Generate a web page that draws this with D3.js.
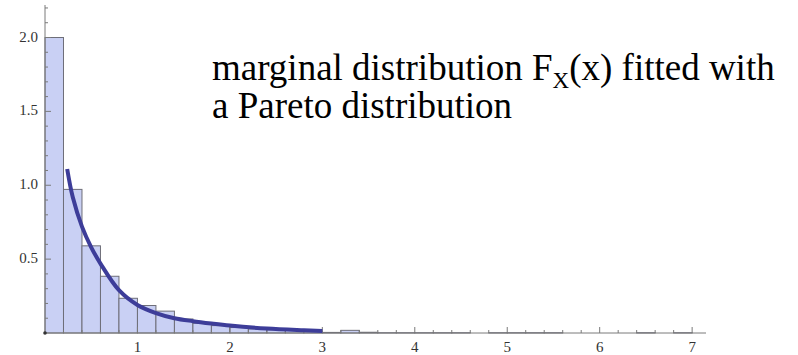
<!DOCTYPE html>
<html>
<head>
<meta charset="utf-8">
<script src="https://cdn.jsdelivr.net/npm/d3@7"></script>
<style>
  body { margin: 0; background: #fff; }
  svg { display: block; }
</style>
</head>
<body>
<div id="chart"></div>
<script>
// histogram bins (width 0.2) and heights
var binStarts = [0, 0.2, 0.4, 0.6, 0.8, 1.0, 1.2, 1.4, 1.6, 1.8, 2.0, 2.2, 2.4, 2.6, 2.8,
  3.0, 3.2, 3.4, 3.6, 3.8, 4.0, 4.2, 4.4, 4.8, 5.0, 5.2, 5.4, 6.4, 6.8];
var binHeights = [2.0, 0.972, 0.59, 0.384, 0.235, 0.186, 0.148, 0.095, 0.066, 0.05, 0.037, 0.028, 0.022, 0.018, 0.013,
  0.004, 0.018, 0.005, 0.002, 0.002, 0.002, 0.002, 0.002, 0.002, 0.002, 0.002, 0.002, 0.002, 0.002];
var binWidth = 0.2;

// fitted Pareto curve
var curveX = [0.24, 0.3, 0.4, 0.5, 0.6, 0.8, 1.0, 1.2, 1.4, 1.6, 1.8, 2.0, 2.4, 2.8, 3.0];
var curveY = [1.11, 0.92, 0.72, 0.58, 0.47, 0.29, 0.19, 0.135, 0.1, 0.08, 0.064, 0.05, 0.03, 0.018, 0.013];

var xTicks = [1, 2, 3, 4, 5, 6, 7];
var yTicks = [0.5, 1.0, 1.5, 2.0];

var width = 798, height = 355;
var serif = "Liberation Serif";

var svg = d3.select("#chart").append("svg")
  .attr("width", width)
  .attr("height", height);

var x = d3.scaleLinear().domain([0, 7.15]).range([45, 706]);
var y = d3.scaleLinear().domain([0, 2.22]).range([333, 5]);

// bars
svg.append("g").selectAll("rect")
  .data(binStarts)
  .enter().append("rect")
  .attr("x", function (d) { return x(d); })
  .attr("y", function (d, i) { return y(binHeights[i]); })
  .attr("width", function (d) { return x(d + binWidth) - x(d); })
  .attr("height", function (d, i) { return y(0) - y(binHeights[i]); })
  .style("fill", "#c9d0f4")
  .style("stroke", "#6e6e78")
  .style("stroke-width", 1);

// axes (Mathematica style: ticks inside)
var axisColor = "#7a7a7a";
svg.append("line")
  .attr("x1", x(0)).attr("x2", x(7.15))
  .attr("y1", y(0)).attr("y2", y(0))
  .style("stroke", axisColor).style("stroke-width", 1);
svg.append("line")
  .attr("x1", x(0)).attr("x2", x(0))
  .attr("y1", y(0)).attr("y2", y(2.22))
  .style("stroke", axisColor).style("stroke-width", 1);

// x ticks, minor every 0.2
var xMinor = d3.range(0.2, 7.15, 0.2).map(function (d) { return Math.round(d * 10) / 10; });
svg.append("g").selectAll("line")
  .data(xMinor)
  .enter().append("line")
  .attr("x1", function (d) { return x(d); })
  .attr("x2", function (d) { return x(d); })
  .attr("y1", y(0))
  .attr("y2", function (d) { return xTicks.indexOf(d) >= 0 ? y(0) - 6 : y(0) - 3; })
  .style("stroke", axisColor);

// y ticks, minor every 0.1
var yMinor = d3.range(0.1, 2.21, 0.1).map(function (d) { return Math.round(d * 10) / 10; });
svg.append("g").selectAll("line")
  .data(yMinor)
  .enter().append("line")
  .attr("x1", x(0))
  .attr("x2", function (d) { return yTicks.indexOf(d) >= 0 ? x(0) + 6 : x(0) + 3; })
  .attr("y1", function (d) { return y(d); })
  .attr("y2", function (d) { return y(d); })
  .style("stroke", axisColor);

svg.append("g").selectAll("text")
  .data(xTicks)
  .enter().append("text")
  .attr("x", function (d) { return x(d); })
  .attr("y", 352)
  .attr("text-anchor", "middle")
  .attr("font-family", serif)
  .attr("font-size", 15)
  .attr("fill", "#333")
  .text(function (d) { return d; });

svg.append("g").selectAll("text")
  .data(yTicks)
  .enter().append("text")
  .attr("x", 38)
  .attr("y", function (d) { return y(d) + 4; })
  .attr("text-anchor", "end")
  .attr("font-family", serif)
  .attr("font-size", 15)
  .attr("fill", "#333")
  .text(function (d) { return d.toFixed(1); });

svg.append("circle")
  .attr("cx", x(0)).attr("cy", y(0)).attr("r", 1.8)
  .style("fill", "#333");

// fitted curve
var line = d3.line()
  .x(function (d) { return x(d[0]); })
  .y(function (d) { return y(d[1]); })
  .curve(d3.curveCatmullRom);

svg.append("path")
  .datum(d3.zip(curveX, curveY))
  .attr("d", line)
  .style("fill", "none")
  .style("stroke", "#3d3d99")
  .style("stroke-width", 4);

// annotation
var note = svg.append("text")
  .attr("x", 212)
  .attr("y", 80)
  .attr("font-family", serif)
  .attr("font-size", 37)
  .attr("fill", "#000");
note.append("tspan").text("marginal distribution F");
note.append("tspan").attr("dy", 8).attr("font-size", 23).text("X");
note.append("tspan").attr("dy", -8).text("(x) fitted with");

svg.append("text")
  .attr("x", 212)
  .attr("y", 118)
  .attr("font-family", serif)
  .attr("font-size", 37)
  .attr("fill", "#000")
  .text("a Pareto distribution");
</script>
</body>
</html>
